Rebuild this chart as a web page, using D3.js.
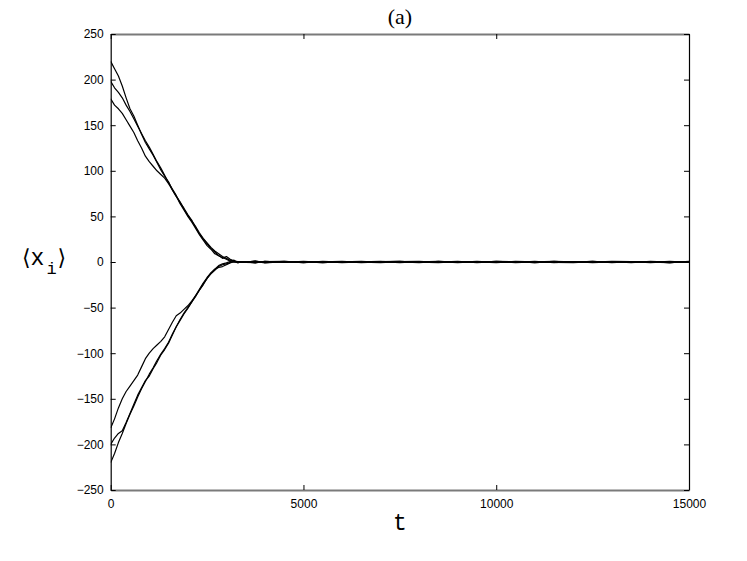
<!DOCTYPE html>
<html>
<head>
<meta charset="utf-8">
<script src="https://cdn.jsdelivr.net/npm/d3@7"></script>
<style>
    body { margin: 0; background: #fff; }
    svg { display: block; }
    .tick-label { font-family: "Liberation Sans", Arial, sans-serif; font-size: 12px; fill: #000; }
</style>
</head>
<body>
<svg id="chart" width="747" height="561"></svg>
<script>
// Sample times shared by every trajectory
const times = [
    0, 100, 200, 300, 400, 500, 600, 700, 800, 900,
    1000, 1100, 1200, 1300, 1400, 1500, 1600, 1700, 1800, 1900,
    2000, 2100, 2200, 2300, 2400, 2500, 2600, 2700, 2800, 2900,
    3000, 3100, 3200, 3300, 3400, 3500, 3750, 4000, 4500, 5000,
    5500, 6000, 6500, 7000, 7500, 8000, 8500, 9000, 9500, 10000,
    10500, 11000, 11500, 12000, 12500, 13000, 13500, 14000, 14500, 15000
];

// <x_i> for each of the six agents
const seriesA = [
    220, 212, 204, 193, 180, 168, 160, 150, 140, 131,
    124, 117, 109, 101, 94, 88, 79, 72, 66, 58,
    51, 45, 39, 32, 26, 21, 16, 12, 9, 6,
    4, 2, 1, 0.5, -0.5, 0.3, -0.6, 0.8, -0.4, 0.5,
    -0.7, 0.3, 0.6, -0.5, 0.2, -0.8, 0.6, -0.3, 0.7, -0.5,
    0.4, -0.6, 0.5, -0.2, 0.7, -0.6, 0.3, -0.4, 0.6, -0.3
];
const seriesB = [
    198, 191, 186, 180, 172, 165, 157, 149, 141, 133,
    126, 118, 110, 103, 95, 87, 80, 73, 65, 59,
    52, 46, 38, 31, 25, 20, 15, 11, 7, 5,
    3, 1, 2, -0.5, 0.4, -0.2, 0.9, -0.5, 0.6, -0.3,
    0.5, -0.7, 0.2, 0.6, -0.5, 0.4, -0.2, 0.7, -0.6, 0.3,
    -0.4, 0.6, -0.7, 0.5, -0.3, 0.4, -0.6, 0.7, -0.2, 0.5
];
const seriesC = [
    179, 172, 168, 163, 156, 149, 142, 133, 125, 116,
    110, 105, 100, 96, 92, 86, 79, 72, 64, 57,
    50, 44, 37, 30, 24, 18, 14, 9, 7, 4,
    6, 3, 1, -1, 0.5, 0, 1.1, -0.7, 0.3, -0.6,
    0.8, -0.2, -0.5, 0.4, 0.7, -0.3, -0.6, 0.5, 0.2, -0.7,
    0.6, 0.3, -0.5, -0.6, 0.4, 0.5, -0.3, 0.2, -0.7, 0.6
];
const seriesD = [
    -182, -172, -160, -150, -142, -136, -130, -124, -115, -106,
    -100, -95, -91, -87, -82, -74, -66, -59, -56, -52,
    -48, -43, -37, -31, -25, -18, -12, -8, -6, -5,
    -3, -1, 0.5, -0.4, 0.3, 0, -1.0, 0.6, -0.5, 0.7,
    -0.3, 0.4, -0.8, 0.2, 0.6, -0.4, 0.3, -0.7, 0.5, 0.4,
    -0.6, 0.2, 0.7, -0.4, -0.2, 0.6, 0.5, -0.6, 0.3, -0.5
];
const seriesE = [
    -200, -193, -188, -185, -176, -166, -156, -146, -138, -130,
    -125, -117, -110, -102, -96, -89, -80, -71, -63, -56,
    -50, -44, -37, -30, -23, -17, -12, -8, -4, -2,
    -1, 0.5, -0.3, 0.4, -0.2, 0, 0.7, -0.9, 0.4, 0.2,
    -0.6, 0.5, -0.3, -0.7, 0.4, 0.6, -0.5, 0.2, -0.4, 0.7,
    -0.2, -0.5, 0.6, 0.3, -0.7, 0.2, 0.5, -0.3, -0.6, 0.4
];
const seriesF = [
    -220, -210, -198, -188, -177, -167, -158, -148, -139, -131,
    -123, -116, -108, -101, -95, -88, -79, -71, -64, -57,
    -51, -44, -38, -31, -24, -18, -13, -9, -5, -3,
    -2, -0.5, 0.6, -0.3, 0.2, -0.4, -0.8, 0.5, 0.7, -0.6,
    0.3, 0.6, -0.4, 0.5, -0.7, 0.3, 0.6, -0.2, -0.5, 0.6,
    0.3, -0.7, 0.4, -0.5, 0.6, -0.4, 0.2, 0.5, -0.6, 0.3
];

const allSeries = [seriesA, seriesB, seriesC, seriesD, seriesE, seriesF];

// Tick values
const xTicks = [0, 5000, 10000, 15000];
const yTicks = [-250, -200, -150, -100, -50, 0, 50, 100, 150, 200, 250];

// Chart props
const margin = { top: 34, right: 58, bottom: 71, left: 110.7 };
const fullWidth = 747;
const fullHeight = 561;
const width = fullWidth - margin.left - margin.right;
const height = fullHeight - margin.top - margin.bottom;
const tickLen = 5;

const svg = d3.select("#chart");
const g = svg.append("g").attr("transform", "translate(" + margin.left + "," + margin.top + ")");

const x = d3.scaleLinear().domain([0, 15000]).range([0, width]);
const y = d3.scaleLinear().domain([-250, 250]).range([height, 0]);

// Trajectories
const line = d3.line()
    .x(function (d, i) { return x(times[i]); })
    .y(function (d) { return y(d); });

g.append("defs").append("clipPath")
    .attr("id", "clip")
    .append("rect")
    .attr("width", width)
    .attr("height", height);

g.append("g")
    .attr("clip-path", "url(#clip)")
    .selectAll("path")
    .data(allSeries)
    .enter()
    .append("path")
    .attr("d", line)
    .attr("fill", "none")
    .attr("stroke", "#000")
    .attr("stroke-width", 1.2)
    .attr("stroke-linejoin", "round");

// Axes, MATLAB style box with inward ticks on all sides
function styleAxis(sel, color, w) {
    sel.select(".domain").attr("stroke", color).attr("stroke-width", w);
    sel.selectAll(".tick line").attr("stroke", "#000").attr("stroke-width", 1);
}

const xBottom = g.append("g")
    .attr("transform", "translate(0," + height + ")")
    .call(d3.axisBottom(x).tickValues(xTicks).tickSizeInner(-tickLen).tickSizeOuter(0).tickPadding(9).tickFormat(d3.format("d")));
styleAxis(xBottom, "#7a7a7a", 2);
xBottom.selectAll("text").attr("class", "tick-label").attr("fill", "#000");

const xTop = g.append("g")
    .call(d3.axisTop(x).tickValues(xTicks).tickSizeInner(-tickLen).tickSizeOuter(0).tickFormat(""));
styleAxis(xTop, "#7a7a7a", 2);

const yLeft = g.append("g")
    .call(d3.axisLeft(y).tickValues(yTicks).tickSizeInner(-tickLen).tickSizeOuter(0).tickPadding(7));
styleAxis(yLeft, "#000", 1.2);
yLeft.selectAll("text").attr("class", "tick-label").attr("fill", "#000");

const yRight = g.append("g")
    .attr("transform", "translate(" + width + ",0)")
    .call(d3.axisRight(y).tickValues(yTicks).tickSizeInner(-tickLen).tickSizeOuter(0).tickFormat(""));
styleAxis(yRight, "#000", 1.2);

// d3 puts font settings on the axis group, drop them so the css class wins
g.selectAll("g").attr("font-size", null).attr("font-family", null);

// Title
svg.append("text")
    .attr("x", margin.left + width / 2)
    .attr("y", 24)
    .attr("text-anchor", "middle")
    .attr("font-family", "'Liberation Serif', 'DejaVu Serif', serif")
    .attr("font-size", 22)
    .text("(a)");

// X label
svg.append("text")
    .attr("x", margin.left + width / 2)
    .attr("y", 530)
    .attr("text-anchor", "middle")
    .attr("font-family", "'Liberation Mono', 'DejaVu Sans Mono', monospace")
    .attr("font-size", 23)
    .text("t");

// Y label: <x_i>
const yLabel = svg.append("text")
    .attr("x", 22)
    .attr("y", 265)
    .attr("font-family", "'Liberation Mono', 'DejaVu Sans Mono', monospace")
    .attr("font-size", 23);
yLabel.append("tspan").attr("font-family", "'DejaVu Sans', sans-serif").attr("font-size", 22).text("\u27E8");
yLabel.append("tspan").text("x");
yLabel.append("tspan").attr("font-size", 17).attr("dy", 9).attr("dx", 2).text("i");
yLabel.append("tspan").attr("font-family", "'DejaVu Sans', sans-serif").attr("font-size", 22).attr("dy", -9).attr("dx", 1).text("\u27E9");
</script>
</body>
</html>
